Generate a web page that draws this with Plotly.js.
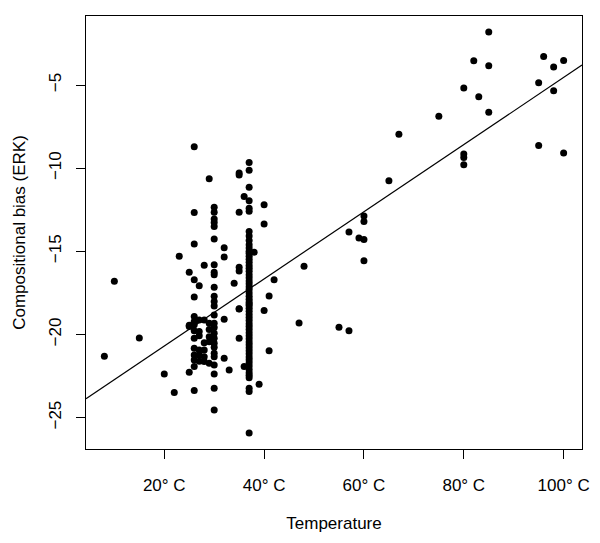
<!DOCTYPE html>
<html>
<head>
<meta charset="utf-8">
<script src="https://cdn.plot.ly/plotly-3.0.1.min.js"></script>
<style>html,body{margin:0;padding:0;background:#fff;}#chart{width:600px;height:543px;}</style>
</head>
<body>
<div id="chart"></div>
<script>
// Temperature (°C) and compositional bias (ERK) for each organism (line-by-line paired)
const temperature = [
  8, 10, 15, 20, 22, 23,
  25, 25, 25, 25,
  26, 26, 26, 26, 26, 26, 26, 26, 26, 26,
  26, 26, 26, 26, 26,
  27, 27, 27, 27, 27, 27, 27,
  28, 28, 28, 28, 28, 28,
  29, 29, 29, 29, 29, 29,
  30, 30, 30, 30, 30, 30, 30, 30, 30, 30,
  30, 30, 30, 30, 30, 30, 30, 30, 30, 30,
  30, 30, 30, 30, 30, 30,
  32, 32, 32, 32, 33, 34,
  35, 35, 35, 35, 35, 35, 35, 35,
  36, 36,
  37, 37, 37, 37, 37, 37, 37, 37,
  37, 37, 37, 37, 37, 37, 37, 37, 37, 37,
  37, 37, 37, 37, 37, 37, 37, 37, 37, 37,
  37, 37, 37, 37, 37, 37, 37, 37, 37, 37,
  37, 37, 37, 37, 37, 37, 37, 37, 37, 37,
  37, 37, 37, 37, 37, 37, 37, 37, 37, 37,
  38, 39, 40, 40, 40, 41, 41, 42,
  47, 48, 55, 57, 57, 59, 60, 60, 60, 60,
  65, 67, 75,
  80, 80, 80, 80, 82, 83, 85, 85, 85,
  95, 95, 96, 98, 98, 100, 100
];
const bias = [
  -21.31, -16.80, -20.21, -22.37, -23.48, -15.30,
  -16.26, -19.52, -22.27, -19.45,
  -8.71, -12.66, -14.56, -16.70, -17.75, -18.92, -19.22, -19.42, -19.78, -20.22,
  -20.82, -21.23, -21.53, -21.93, -23.36,
  -17.06, -19.12, -19.82, -20.07, -20.93, -21.23, -21.60,
  -15.84, -19.12, -20.93, -21.33, -21.63, -20.50,
  -10.63, -19.32, -20.13, -20.43, -21.73, -19.70,
  -12.34, -12.64, -13.06, -13.27, -13.51, -14.25, -15.81, -16.25, -16.41, -17.15,
  -18.02, -18.28, -18.82, -19.32, -19.58, -19.92, -20.22, -20.52, -20.76, -21.13,
  -21.33, -21.83, -22.37, -23.23, -24.54, -17.70,
  -14.78, -15.34, -19.08, -21.43, -22.13, -16.92,
  -10.29, -10.40, -12.64, -15.95, -16.18, -18.46, -20.22, -18.45,
  -11.70, -21.93,
  -9.65, -10.12, -11.14, -11.96, -12.40, -12.58, -13.81, -14.08,
  -14.60, -14.80, -15.00, -15.12, -15.30, -15.48, -15.66, -15.85, -16.02, -16.20,
  -16.40, -16.58, -16.78, -16.95, -17.12, -17.30, -17.50, -17.70, -17.88, -18.05,
  -18.25, -18.42, -18.60, -18.80, -18.98, -19.15, -19.35, -19.52, -19.70, -19.90,
  -20.08, -20.25, -20.45, -20.62, -20.80, -20.98, -21.15, -21.35, -21.52, -21.70,
  -21.90, -22.10, -22.30, -22.45, -22.60, -23.23, -23.43, -25.92, -14.35, -18.15,
  -15.05, -22.99, -12.20, -13.35, -18.56, -17.68, -20.97, -16.71,
  -19.31, -15.90, -19.57, -13.84, -19.77, -14.20, -12.88, -13.20, -14.28, -15.56,
  -10.75, -7.95, -6.88,
  -5.18, -9.15, -9.35, -9.79, -3.54, -5.70, -1.81, -3.84, -6.64,
  -4.86, -8.63, -3.28, -3.92, -5.34, -3.52, -9.09
];

// Fitted regression line
const fitIntercept = -24.73;
const fitSlope = 0.2019;

// Axis ticks
const xTickValues = [20, 40, 60, 80, 100];
const xTickLabels = ["20° C", "40° C", "60° C", "80° C", "100° C"];
const yTickValues = [-5, -10, -15, -20, -25];
const yTickLabels = ["\u22125", "\u221210", "\u221215", "\u221220", "\u221225"];

function padRange(arr) {
  const mn = Math.min(...arr), mx = Math.max(...arr);
  const p = (mx - mn) * 0.04;
  return [mn - p, mx + p];
}
const xr = padRange(temperature);
const yr = padRange(bias);

const font = {family: "Liberation Sans, Arial, sans-serif", size: 17, color: "#000"};

const traces = [
  {
    x: temperature, y: bias, type: "scatter", mode: "markers",
    marker: {color: "#000", size: 7, line: {width: 0}},
    hoverinfo: "x+y", showlegend: false
  },
  {
    x: xr, y: xr.map(t => fitIntercept + fitSlope * t),
    type: "scatter", mode: "lines",
    line: {color: "#000", width: 1.2},
    hoverinfo: "skip", showlegend: false
  }
];

const axisCommon = {
  showgrid: false, zeroline: false,
  showline: true, mirror: true, linecolor: "#000", linewidth: 1,
  ticks: "outside", ticklen: 9, tickwidth: 1, tickcolor: "#000",
  tickfont: font
};

const layout = {
  width: 600, height: 543,
  margin: {l: 86, r: 18, t: 16, b: 94},
  paper_bgcolor: "#fff", plot_bgcolor: "#fff",
  font: font,
  xaxis: Object.assign({}, axisCommon, {
    range: xr, tickmode: "array", tickvals: xTickValues, ticktext: xTickLabels,
    ticklabelstandoff: 12,
    title: {text: "Temperature", font: font, standoff: 22}
  }),
  yaxis: Object.assign({}, axisCommon, {
    range: yr, tickmode: "array", tickvals: yTickValues, ticktext: yTickLabels,
    tickangle: -90, ticklabelstandoff: 8,
    title: {text: "Compositional bias (ERK)", font: font, standoff: 16}
  })
};

Plotly.newPlot("chart", traces, layout, {staticPlot: true, displayModeBar: false});
</script>
</body>
</html>
